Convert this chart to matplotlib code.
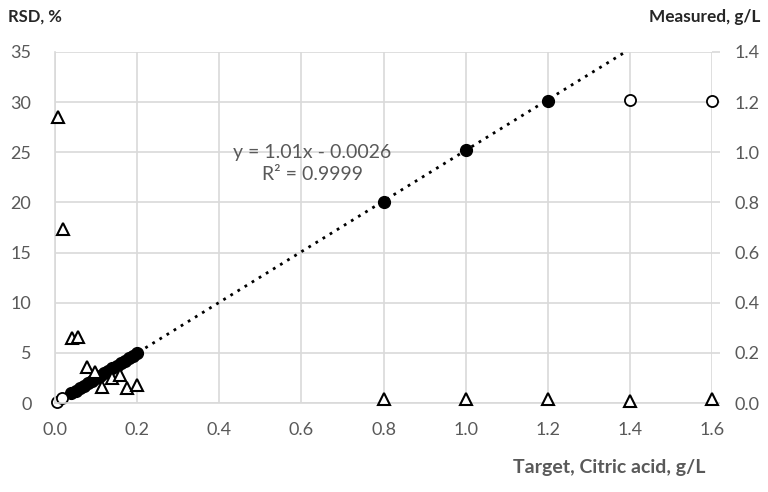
import numpy as np
import matplotlib.pyplot as plt

# measured concentration (right axis), filled = within range, open = out of range
target_in = [0.04, 0.05, 0.06, 0.07, 0.08, 0.09, 0.10, 0.11, 0.12, 0.13, 0.14,
             0.15, 0.16, 0.17, 0.18, 0.19, 0.20, 0.80, 1.00, 1.20]
measured_in = [0.038, 0.048, 0.058, 0.068, 0.079, 0.088, 0.099, 0.109, 0.119, 0.129,
               0.139, 0.149, 0.159, 0.169, 0.180, 0.189, 0.199, 0.802, 1.010, 1.203]
target_out = [0.004, 0.016, 1.40, 1.60]
measured_out = [0.004, 0.018, 1.210, 1.205]

# RSD (left axis)
target_rsd = [0.007, 0.020, 0.041, 0.056, 0.077, 0.098, 0.114, 0.138, 0.159, 0.175,
              0.199, 0.80, 1.00, 1.20, 1.40, 1.60]
rsd = [28.5, 17.4, 6.5, 6.6, 3.6, 3.1, 1.6, 2.5, 2.8, 1.5, 1.8, 0.4, 0.4, 0.4, 0.2, 0.4]

slope, intercept = 1.01, -0.0026

plt.rcParams['font.family'] = ['Lato', 'DejaVu Sans']
grey = '#595959'
grid_c = '#d9d9d9'

fig = plt.figure(figsize=(7.68, 4.92), dpi=100)
ax = fig.add_axes([55 / 768, 1 - 403 / 492, (712 - 55) / 768, (403 - 52) / 492])
ax2 = ax.twinx()

ax.set_xlim(0, 1.6)
ax.set_ylim(0, 35)
ax2.set_ylim(0, 1.4)
xt = np.arange(0, 1.61, 0.2)
ax.set_xticks(xt)
ax.set_yticks(np.arange(0, 36, 5))
ax2.set_yticks(np.arange(0, 1.41, 0.2))
ax.set_xticklabels([f'{v:.1f}' for v in xt])
ax2.set_yticklabels([f'{v:.1f}' for v in np.arange(0, 1.41, 0.2)])

# grid lives on the lower axes (ax2) so markers sit above it
ax2.xaxis.set_visible(True)
ax2.tick_params(axis='x', bottom=False, top=False, labelbottom=False, labeltop=False)
ax2.grid(True, color=grid_c, linewidth=1.2)
ax2.set_axisbelow(True)
ax.grid(False)

for a in (ax, ax2):
    for s in a.spines.values():
        s.set_visible(False)
for side in ('left', 'bottom'):
    ax.spines[side].set_visible(True)
    ax.spines[side].set_color(grid_c)
    ax.spines[side].set_linewidth(1.2)

ax.tick_params(axis='y', length=0, pad=17, labelsize=13, labelcolor=grey)
ax.tick_params(axis='x', length=0, pad=14, labelsize=13, labelcolor=grey)
ax2.tick_params(axis='y', length=6, width=1.2, color=grid_c, pad=10,
                labelsize=13, labelcolor=grey)

# trendline
xs = np.array([0.03, 1.6])
ax2.plot(xs, slope * xs + intercept, color='black', linestyle=(0, (1, 2)),
         linewidth=2, zorder=2)

ax2.plot(target_in, measured_in, 'o', color='black', markersize=8.5, zorder=3)
ax2.plot(target_out, measured_out, 'o', markerfacecolor='white',
         markeredgecolor='black', markersize=8, markeredgewidth=1.3, zorder=3,
         clip_on=False)
ax.plot(target_rsd, rsd, '^', markerfacecolor='white', markeredgecolor='black',
        markersize=8, markeredgewidth=1.5, clip_on=False, zorder=4)
ax.set_zorder(ax2.get_zorder() + 1)
ax.patch.set_visible(False)

ax.text(0.626, 25.0, 'y = 1.01x - 0.0026', ha='center', va='center',
        fontsize=14, color=grey)
ax.text(0.626, 22.8, 'R\u00b2 = 0.9999', ha='center', va='center',
        fontsize=14, color=grey)

fig.text(8 / 768, 1 - 17 / 492, 'RSD, %', fontsize=12, fontweight='bold',
         color='#262626', ha='left', va='center')
fig.text(760 / 768, 1 - 17 / 492, 'Measured, g/L', fontsize=12.4,
         fontweight='bold', color='#262626', ha='right', va='center')
fig.text(705 / 768, 1 - 468 / 492, 'Target, Citric acid, g/L', fontsize=14,
         fontweight='bold', color=grey, ha='right', va='center')

fig.savefig('out.png', dpi=100)
